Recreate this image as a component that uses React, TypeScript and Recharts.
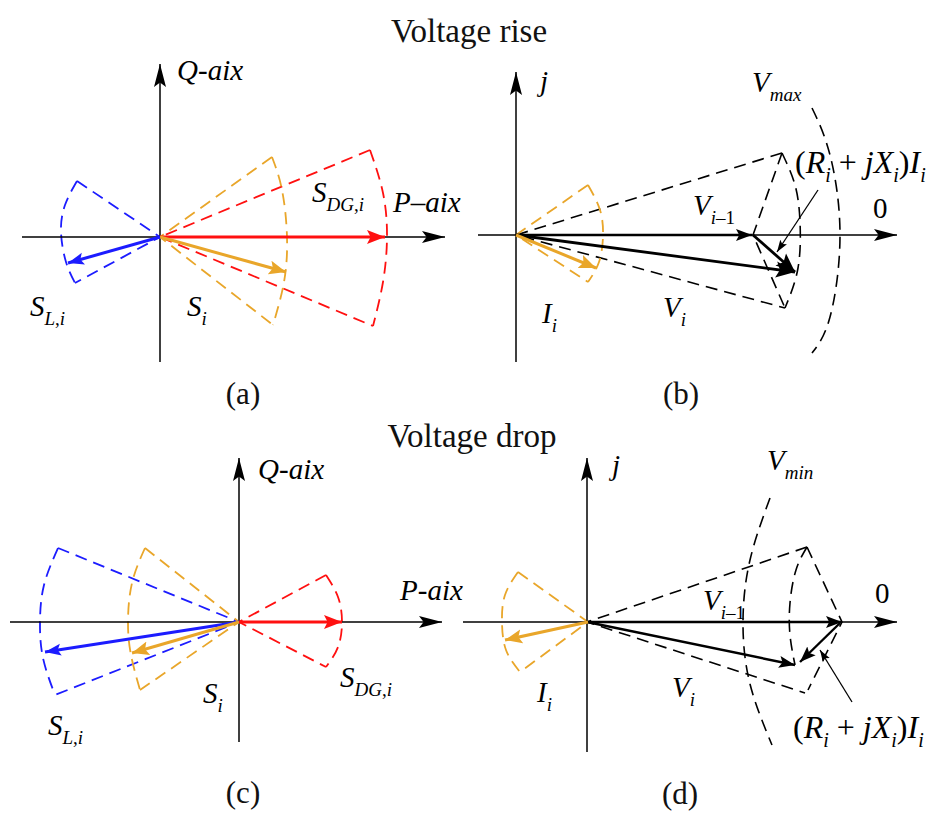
import React from 'react';
import { ComposedChart, Line, XAxis, YAxis, Scatter } from 'recharts';

type Pt = [number, number];

// ---------- Panel (a): voltage rise, power phasors ----------
const aAxisP: Pt[] = [[22, 237], [445, 237]];
const aAxisQ: Pt[] = [[160, 362], [160, 64]];
const aSdg: Pt[] = [[160, 237], [385, 237]];
const aSdgRays: Pt[] = [[370, 150], [160, 237], [373, 326]];
const aSdgArc: Pt[] = [[370, 150], [383, 193], [387, 237], [383, 282], [373, 326]];
const aSi: Pt[] = [[160, 237], [286, 272]];
const aSiRays: Pt[] = [[272, 157], [160, 237], [273, 325]];
const aSiArc: Pt[] = [[272, 157], [282, 190], [287, 237], [284, 282], [273, 325]];
const aSl: Pt[] = [[160, 237], [68, 263]];
const aSlRays: Pt[] = [[77, 181], [160, 237], [75, 283]];
const aSlArc: Pt[] = [[77, 181], [65, 205], [61, 232], [66, 262], [75, 283]];

// ---------- Panel (b): voltage rise, voltage phasors ----------
const bAxisH: Pt[] = [[478, 235], [897, 235]];
const bAxisJ: Pt[] = [[516, 362], [516, 72]];
const bVprev: Pt[] = [[516, 235], [752, 235]];
const bVi: Pt[] = [[516, 235], [795, 272]];
const bRI: Pt[] = [[753, 235], [795, 272]];
const bRays: Pt[] = [[782, 153], [516, 235], [785, 308]];
const bLocus: Pt[] = [[782, 153], [753, 235], [785, 308]];
const bLocusArc: Pt[] = [[782, 153], [795, 185], [800, 222], [798, 268], [785, 308]];
const bVmax: Pt[] = [[812, 108], [830, 155], [840, 235], [830, 317], [812, 353]];
const bPointer: Pt[] = [[818, 190], [777, 252]];
const bI: Pt[] = [[516, 235], [596, 268]];
const bIRays: Pt[] = [[588, 185], [516, 235], [588, 282]];
const bIArc: Pt[] = [[588, 185], [600, 210], [603, 236], [599, 262], [588, 282]];

// ---------- Panel (c): voltage drop, power phasors ----------
const cAxisP: Pt[] = [[10, 622], [442, 622]];
const cAxisQ: Pt[] = [[239, 742], [239, 458]];
const cSdg: Pt[] = [[239, 622], [342, 622]];
const cSdgRays: Pt[] = [[326, 575], [239, 622], [326, 667]];
const cSdgArc: Pt[] = [[326, 575], [338, 597], [342, 622], [338, 647], [326, 667]];
const cSl: Pt[] = [[239, 622], [45, 652]];
const cSlRays: Pt[] = [[58, 548], [239, 622], [55, 695]];
const cSlArc: Pt[] = [[58, 548], [44, 585], [40, 622], [43, 658], [55, 695]];
const cSi: Pt[] = [[239, 622], [132, 653]];
const cSiRays: Pt[] = [[145, 548], [239, 622], [140, 690]];
const cSiArc: Pt[] = [[145, 548], [132, 583], [128, 622], [131, 655], [140, 690]];

// ---------- Panel (d): voltage drop, voltage phasors ----------
const dAxisH: Pt[] = [[463, 622], [897, 622]];
const dAxisJ: Pt[] = [[587, 752], [587, 458]];
const dVprev: Pt[] = [[587, 622], [842, 622]];
const dVi: Pt[] = [[587, 622], [795, 665]];
const dRI: Pt[] = [[840, 623], [800, 662]];
const dPointer: Pt[] = [[852, 702], [820, 650]];
const dRays: Pt[] = [[807, 547], [587, 622], [805, 693]];
const dLocus: Pt[] = [[807, 547], [842, 622], [808, 690]];
const dLocusArc: Pt[] = [[807, 547], [796, 570], [790, 603], [790, 635], [795, 665]];
const dVmin: Pt[] = [[770, 498], [750, 560], [743, 622], [750, 684], [772, 745]];
const dI: Pt[] = [[588, 622], [505, 640]];
const dIRays: Pt[] = [[518, 572], [588, 622], [520, 672]];
const dIArc: Pt[] = [[518, 572], [505, 595], [502, 622], [506, 650], [520, 672]];

// ---------- Texts ----------
const labels = [
  { x: 177, y: 80, s: 'Q-aix' },
  { x: 393, y: 212, s: 'P–aix' },
  { x: 312, y: 202, s: 'S_{DG,i}' },
  { x: 30, y: 316, s: 'S_{L,i}' },
  { x: 187, y: 316, s: 'S_i' },
  { x: 540, y: 91, s: 'j' },
  { x: 752, y: 92, s: 'V_{max}' },
  { x: 795, y: 173, s: '(R_i + jX_i)I_i', big: true },
  { x: 873, y: 218, s: '0' },
  { x: 693, y: 215, s: 'V_{i–1}' },
  { x: 542, y: 323, s: 'I_i' },
  { x: 663, y: 317, s: 'V_i' },
  { x: 258, y: 479, s: 'Q-aix' },
  { x: 400, y: 600, s: 'P-aix' },
  { x: 48, y: 735, s: 'S_{L,i}' },
  { x: 203, y: 703, s: 'S_i' },
  { x: 340, y: 687, s: 'S_{DG,i}' },
  { x: 612, y: 475, s: 'j' },
  { x: 767, y: 470, s: 'V_{min}' },
  { x: 875, y: 603, s: '0' },
  { x: 703, y: 610, s: 'V_{i–1}' },
  { x: 537, y: 702, s: 'I_i' },
  { x: 672, y: 697, s: 'V_i' },
  { x: 793, y: 738, s: '(R_i + jX_i)I_i', big: true },
];
const titles = [
  { x: 469, y: 42, s: 'Voltage rise' },
  { x: 472, y: 447, s: 'Voltage drop' },
];
const captions = [
  { x: 243, y: 404, s: '(a)' },
  { x: 681, y: 404, s: '(b)' },
  { x: 243, y: 803, s: '(c)' },
  { x: 680, y: 804, s: '(d)' },
];

// ---------- Styles ----------
const RED = '#ff1010';
const ORANGE = '#e9a62a';
const BLUE = '#1c1cff';
const BLACK = '#000000';
const DASH = '12 7';

type Style = { stroke: string; w: number; dash?: string; marker?: string; curve?: 'linear' | 'natural' };
const styles: Record<string, Style> = {
  axis: { stroke: BLACK, w: 1.5, marker: 'mAxis' },
  redArrow: { stroke: RED, w: 3.2, marker: 'mRed' },
  orangeArrow: { stroke: ORANGE, w: 3, marker: 'mOrange' },
  blueArrow: { stroke: BLUE, w: 3, marker: 'mBlue' },
  blackArrow: { stroke: BLACK, w: 2.4, marker: 'mBlack' },
  blackBig: { stroke: BLACK, w: 2.8, marker: 'mBlackBig' },
  pointer: { stroke: BLACK, w: 1.3, marker: 'mPtr' },
  redDash: { stroke: RED, w: 1.8, dash: DASH },
  orangeDash: { stroke: ORANGE, w: 1.8, dash: DASH },
  blueDash: { stroke: BLUE, w: 1.8, dash: DASH },
  blackDash: { stroke: BLACK, w: 1.6, dash: DASH },
  redArc: { stroke: RED, w: 1.8, dash: DASH, curve: 'natural' },
  orangeArc: { stroke: ORANGE, w: 1.8, dash: DASH, curve: 'natural' },
  blueArc: { stroke: BLUE, w: 1.8, dash: DASH, curve: 'natural' },
  blackArc: { stroke: BLACK, w: 1.6, dash: DASH, curve: 'natural' },
};

const seriesList: { d: Pt[]; k: string }[] = [
  // (a)
  { d: aSdgRays, k: 'redDash' }, { d: aSdgArc, k: 'redArc' },
  { d: aSiRays, k: 'orangeDash' }, { d: aSiArc, k: 'orangeArc' },
  { d: aSlRays, k: 'blueDash' }, { d: aSlArc, k: 'blueArc' },
  { d: aAxisP, k: 'axis' }, { d: aAxisQ, k: 'axis' },
  { d: aSdg, k: 'redArrow' }, { d: aSi, k: 'orangeArrow' }, { d: aSl, k: 'blueArrow' },
  // (b)
  { d: bRays, k: 'blackDash' }, { d: bLocus, k: 'blackDash' }, { d: bLocusArc, k: 'blackArc' },
  { d: bVmax, k: 'blackArc' }, { d: bIRays, k: 'orangeDash' }, { d: bIArc, k: 'orangeArc' },
  { d: bAxisH, k: 'axis' }, { d: bAxisJ, k: 'axis' },
  { d: bVprev, k: 'blackArrow' }, { d: bVi, k: 'blackBig' }, { d: bRI, k: 'blackBig' },
  { d: bPointer, k: 'pointer' }, { d: bI, k: 'orangeArrow' },
  // (c)
  { d: cSdgRays, k: 'redDash' }, { d: cSdgArc, k: 'redArc' },
  { d: cSlRays, k: 'blueDash' }, { d: cSlArc, k: 'blueArc' },
  { d: cSiRays, k: 'orangeDash' }, { d: cSiArc, k: 'orangeArc' },
  { d: cAxisP, k: 'axis' }, { d: cAxisQ, k: 'axis' },
  { d: cSl, k: 'blueArrow' }, { d: cSi, k: 'orangeArrow' }, { d: cSdg, k: 'redArrow' },
  // (d)
  { d: dRays, k: 'blackDash' }, { d: dLocus, k: 'blackDash' }, { d: dLocusArc, k: 'blackArc' },
  { d: dVmin, k: 'blackArc' }, { d: dIRays, k: 'orangeDash' }, { d: dIArc, k: 'orangeArc' },
  { d: dAxisH, k: 'axis' }, { d: dAxisJ, k: 'axis' },
  { d: dVprev, k: 'blackArrow' }, { d: dVi, k: 'blackArrow' }, { d: dRI, k: 'blackArrow' },
  { d: dPointer, k: 'pointer' }, { d: dI, k: 'orangeArrow' },
];

const toObj = (pts: Pt[]) => pts.map(([x, y]) => ({ x, y }));

// ---------- Text rendering ----------
const FONT = 'Liberation Serif';

function parse(s: string): { t: string; sub: boolean }[] {
  const out: { t: string; sub: boolean }[] = [];
  let buf = '';
  let i = 0;
  while (i < s.length) {
    if (s[i] === '_') {
      if (buf) { out.push({ t: buf, sub: false }); buf = ''; }
      if (s[i + 1] === '{') {
        const j = s.indexOf('}', i);
        out.push({ t: s.slice(i + 2, j), sub: true });
        i = j + 1;
      } else {
        out.push({ t: s[i + 1], sub: true });
        i += 2;
      }
    } else {
      buf += s[i];
      i++;
    }
  }
  if (buf) out.push({ t: buf, sub: false });
  return out;
}

function runs(t: string): { t: string; it: boolean }[] {
  const res: { t: string; it: boolean }[] = [];
  for (const ch of t) {
    const it = /[A-Za-z]/.test(ch);
    const last = res[res.length - 1];
    if (last && last.it === it) last.t += ch;
    else res.push({ t: ch, it });
  }
  return res;
}

const SUB_DY = 9;

const MathLabel = (props: any) => {
  const { cx, cy, payload } = props;
  if (cx == null || cy == null) return null;
  const segs = parse(payload.s);
  const mainSize = payload.big ? 32 : 29;
  const subSize = payload.big ? 20 : 19;
  const spans: React.ReactNode[] = [];
  let inSub = false;
  let key = 0;
  segs.forEach((seg) => {
    const rs = runs(seg.t);
    rs.forEach((r, idx) => {
      let dy = 0;
      if (idx === 0) {
        if (seg.sub && !inSub) dy = SUB_DY;
        if (!seg.sub && inSub) dy = -SUB_DY;
      }
      spans.push(
        <tspan
          key={key++}
          dy={dy || undefined}
          style={{ fontStyle: r.it ? 'italic' : 'normal', fontSize: seg.sub ? subSize : mainSize }}
        >
          {r.t}
        </tspan>
      );
    });
    inSub = seg.sub;
  });
  return (
    <text x={cx} y={cy} fill="#000" style={{ whiteSpace: 'pre', fontFamily: FONT }}>
      {spans}
    </text>
  );
};

const PlainText = (size: number) => (props: any) => {
  const { cx, cy, payload } = props;
  if (cx == null || cy == null) return null;
  return (
    <text x={cx} y={cy} textAnchor="middle" fill="#111" style={{ fontFamily: FONT, fontSize: size }}>
      {payload.s}
    </text>
  );
};

const TitleShape = PlainText(33);
const CaptionShape = PlainText(31);

const Head = ({ id, color, len, half }: { id: string; color: string; len: number; half: number }) => (
  <marker
    id={id}
    markerUnits="userSpaceOnUse"
    markerWidth={len + 2}
    markerHeight={half * 2 + 2}
    refX={len}
    refY={half + 1}
    orient="auto"
    viewBox={`0 0 ${len + 2} ${half * 2 + 2}`}
  >
    <path d={`M0,1 L${len},${half + 1} L0,${half * 2 + 1} L${len * 0.2},${half + 1} Z`} fill={color} />
  </marker>
);

export default function App() {
  return (
    <div style={{ position: 'absolute', left: 0, top: 0, background: '#fff' }}>
      <ComposedChart width={945} height={816} margin={{ top: 0, right: 0, bottom: 0, left: 0 }}>
        <defs>
          <Head id="mAxis" color={BLACK} len={23} half={6} />
          <Head id="mRed" color={RED} len={18} half={7} />
          <Head id="mOrange" color={ORANGE} len={17} half={7} />
          <Head id="mBlue" color={BLUE} len={16} half={6} />
          <Head id="mBlack" color={BLACK} len={16} half={6} />
          <Head id="mBlackBig" color={BLACK} len={19} half={8} />
          <Head id="mPtr" color={BLACK} len={12} half={4} />
        </defs>
        <XAxis type="number" dataKey="x" domain={[0, 945]} hide allowDataOverflow />
        <YAxis type="number" dataKey="y" domain={[0, 816]} reversed hide allowDataOverflow />
        {seriesList.map((s, i) => {
          const st = styles[s.k];
          return (
            <Line
              key={`l${i}`}
              data={toObj(s.d)}
              dataKey="y"
              type={st.curve || 'linear'}
              stroke={st.stroke}
              strokeWidth={st.w}
              strokeDasharray={st.dash}
              markerEnd={st.marker ? `url(#${st.marker})` : undefined}
              dot={false}
              activeDot={false}
              isAnimationActive={false}
              legendType="none"
            />
          );
        })}
        <Scatter data={labels} dataKey="y" shape={MathLabel} isAnimationActive={false} legendType="none" />
        <Scatter data={titles} dataKey="y" shape={TitleShape} isAnimationActive={false} legendType="none" />
        <Scatter data={captions} dataKey="y" shape={CaptionShape} isAnimationActive={false} legendType="none" />
      </ComposedChart>
    </div>
  );
}
